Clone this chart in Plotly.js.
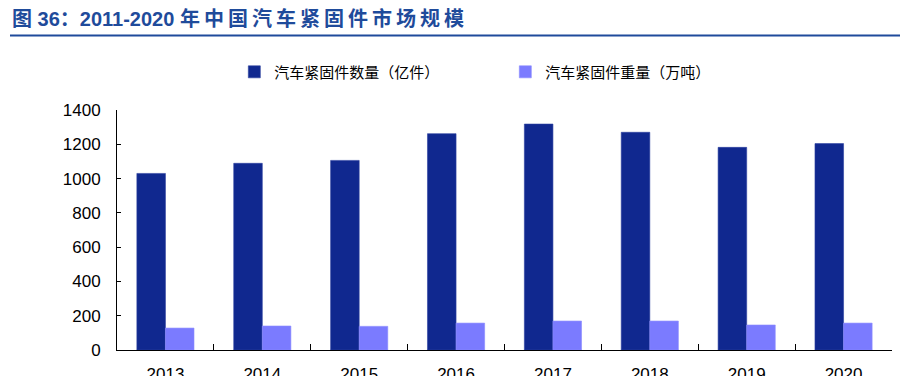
<!DOCTYPE html>
<html>
<head>
<meta charset="utf-8">
<script src="https://cdn.plot.ly/plotly-3.0.1.min.js"></script>
<style>html,body{margin:0;padding:0;background:#fff;}#chart{width:900px;height:376px;}</style>
</head>
<body>
<div id="chart"></div>
<script>
const years = ["2013","2014","2015","2016","2017","2018","2019","2020"];
const countValues = [1030, 1089, 1106, 1262, 1318, 1270, 1182, 1204];
const weightValues = [128, 140, 138, 157, 169, 169, 146, 157];
const seriesNames = ["汽车紧固件数量（亿件）", "汽车紧固件重量（万吨）"];
const titleText = "图 36：2011-2020 年中国汽车紧固件市场规模";
const yTicks = [0, 200, 400, 600, 800, 1000, 1200, 1400];

const TS = "\u2009";
function spaced(s){
  // add thin spaces between CJK chars to mimic the reference's letter spacing
  let out = "";
  for (let i = 0; i < s.length; i++) {
    out += s[i];
    const c = s.charCodeAt(i), n = i + 1 < s.length ? s.charCodeAt(i + 1) : 0;
    if (c > 0x2E80 && n > 0x2E80 && s[i] !== "：") out += TS;
  }
  return out;
}

const traces = [
  {type: "bar", x: years, y: countValues, name: seriesNames[0],
   marker: {color: "#10288F", line: {color: "#2B3FA0", width: 0.6}}},
  {type: "bar", x: years, y: weightValues, name: seriesNames[1],
   marker: {color: "#7B7BFF", line: {color: "#8C8CFF", width: 0.6}}}
];

const layout = {
  width: 900, height: 376,
  margin: {l: 117, r: 8, t: 110, b: 26},
  paper_bgcolor: "#fff", plot_bgcolor: "#fff",
  font: {family: "Liberation Sans, Arial, 'Noto Sans CJK SC', sans-serif", color: "#000"},
  title: {text: "<b>" + spaced(titleText) + "</b>", x: 12/900, xref: "container", xanchor: "left",
          y: 0.95, yref: "container", yanchor: "middle",
          font: {size: 20, color: "#1F4B9B", family: "Liberation Sans, Arial, 'Noto Sans CJK SC', sans-serif"}},
  barmode: "group", bargap: 0.41, bargroupgap: 0,
  showlegend: true,
  legend: {orientation: "h", x: 0.163 - 9/775, xanchor: "left", y: 1.158, yanchor: "middle",
           font: {size: 15, family: "'Noto Sans CJK SC', sans-serif", color: "#000"},
           itemwidth: 30, entrywidth: 226, entrywidthmode: "pixels", bgcolor: "rgba(0,0,0,0)",
           traceorder: "normal"},
  xaxis: {type: "category", showline: true, linecolor: "#000", linewidth: 1,
          ticks: "inside", ticklen: 6, tickcolor: "#000", tickson: "boundaries",
          showgrid: false, zeroline: false, tickfont: {size: 17, color: "#000"}, ticklabelstandoff: 9},
  yaxis: {range: [0, 1400], tickvals: yTicks, showline: true, linecolor: "#000", linewidth: 1,
          ticks: "inside", ticklen: 4, tickcolor: "#000", showgrid: false, zeroline: false,
          tickfont: {size: 17, color: "#000"}, ticklabelstandoff: 12},
  shapes: [{type: "line", xref: "paper", yref: "paper",
            x0: -117/775 + 10/775, x1: (900-117)/775, y0: (350-35.5)/240, y1: (350-35.5)/240,
            line: {color: "#1F4B9B", width: 2}}]
};

Plotly.newPlot("chart", traces, layout, {displayModeBar: false, staticPlot: true});
</script>
</body>
</html>
